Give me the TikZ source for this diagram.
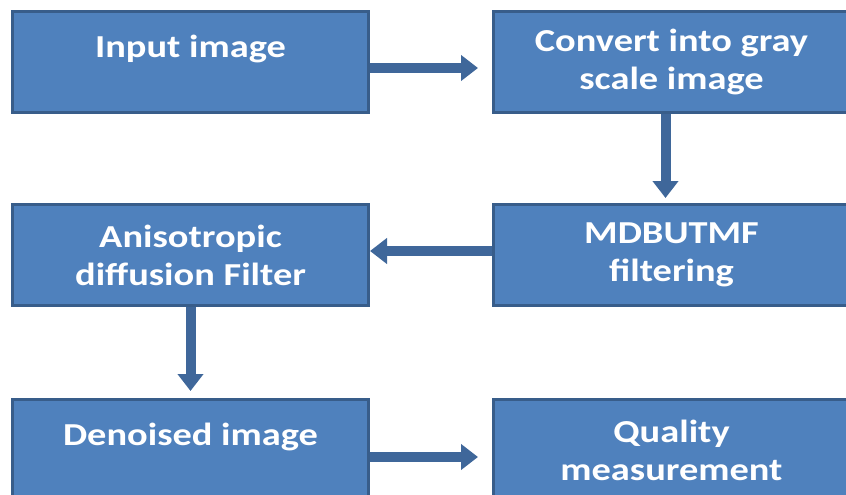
\documentclass[tikz,border=0pt]{standalone}
\usepackage{fontspec}
\newfontfamily\boxfont[FakeStretch=1.2]{Carlito}
\usetikzlibrary{arrows.meta, positioning}
\definecolor{bfill}{HTML}{4F81BD}
\definecolor{bline}{HTML}{385D8A}
\definecolor{barrow}{HTML}{3F679A}

\begin{document}
\begin{tikzpicture}[node distance=89pt and 122pt]

\tikzstyle{box} = [rectangle, draw=bline, line width=3pt, fill=bfill, text=white, font=\boxfont\bfseries\fontsize{32}{38}\selectfont, align=center, minimum width=356pt, minimum height=101pt, inner sep=0pt]
\tikzstyle{arrow} = [-{Triangle[width=25pt,length=17pt]}, barrow, line width=10pt]

\useasboundingbox (0,0) rectangle (846pt,-495pt);
\clip (0,0) rectangle (846pt,-495pt);

% Row 1
\node[box, anchor=north west] (input) at (11pt,-10pt) {Input image\\[-6pt]\mbox{}};
\node[box, right=of input] (gray) {Convert into gray\\scale image};

\draw[arrow, shorten >=14pt] ([yshift=-6pt]input.east) -- ([yshift=-6pt]input.east -| gray.west);

% Row 2
\node[box, below=of gray] (mdb) {MDBUTMF\\filtering};
\node[box, below=of input] (aniso) {Anisotropic\\diffusion Filter};

\draw[arrow, shorten >=5pt] ([xshift=-6pt]gray.south) -- ([xshift=-6pt]gray.south |- mdb.north);
\draw[arrow] ([yshift=4pt]mdb.west) -- ([yshift=4pt]mdb.west -| aniso.east);

% Row 3
\node[box, below=91pt of aniso] (denoise) {Denoised image\\[-6pt]\mbox{}};
\node[box, below=91pt of mdb] (quality) {Quality\\measurement};

\draw[arrow, shorten >=7pt] (aniso.south) -- (aniso.south |- denoise.north);
\draw[arrow, shorten >=14pt] ([yshift=-7pt]denoise.east) -- ([yshift=-7pt]denoise.east -| quality.west);

\end{tikzpicture}
\end{document}
